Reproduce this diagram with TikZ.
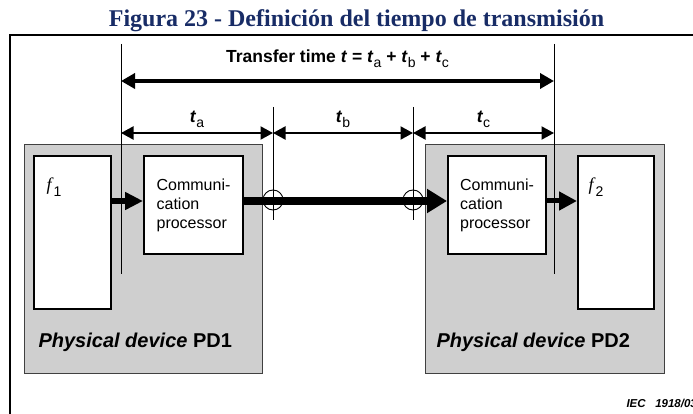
\documentclass[tikz,border=0pt]{standalone}
\usepackage{fontspec}
\setmainfont{Liberation Serif}
\setsansfont{Liberation Sans}
\usepackage{xcolor}
\usetikzlibrary{arrows.meta, calc}
\definecolor{titleblue}{RGB}{24,44,102}
\newcommand\lowidx[1]{\raisebox{-0.28em}{\mdseries\fontsize{14}{14}\selectfont #1}}

\begin{document}
\begin{tikzpicture}[x=1pt,y=-1pt,
	device/.style={draw=black!75,fill=black!19,line width=1.2pt,anchor=north west,inner sep=0pt},
	unit/.style={draw,fill=white,line width=2pt,anchor=north west,inner sep=0pt,
		font=\sffamily\fontsize{16}{19}\selectfont,align=left},
	devlabel/.style={anchor=base west,font=\sffamily\bfseries\fontsize{20}{24}\selectfont},
	fname/.style={anchor=base west,font=\fontsize{18}{20}\selectfont},
	dimline/.style={line width=0.9pt},
	dimtext/.style={anchor=base,font=\sffamily\bfseries\fontsize{17.5}{20}\selectfont},
	totalarrow/.style={line width=3.5pt,{Triangle[length=14pt,width=15pt]}-{Triangle[length=14pt,width=15pt]}},
	partarrow/.style={line width=2pt,{Triangle[length=12.5pt,width=13pt]}-{Triangle[length=12.5pt,width=13pt]}},
	ring/.style={circle,draw,minimum size=20pt,inner sep=0pt,line width=0.9pt}]
	\clip (0,0) rectangle (693,414);
	\node[font=\bfseries\fontsize{24}{28}\selectfont,text=titleblue,anchor=base] (title) at (356.5,27)
		{Figura 23 - Definición del tiempo de transmisión};
	\draw[line width=2pt] (10,430) |- (710,35);

	\node[device,minimum width=238pt,minimum height=229pt] (pd1) at (24,144) {};
	\node[device,minimum width=239pt,minimum height=229pt] (pd2) at (425,144) {};
	\node[devlabel] (pd1label) at ([xshift=11pt,yshift=27pt]pd1.south west) {\textit{Physical device} PD1};
	\node[devlabel] (pd2label) at ([xshift=8pt,yshift=27pt]pd2.south west) {\textit{Physical device} PD2};

	\node[unit,minimum width=77pt,minimum height=153pt] (f1) at (33,155) {};
	\node[unit,minimum width=99pt,minimum height=98pt] (cp1) at (143,155) {Communi-\\cation\\processor};
	\node[unit,minimum width=98pt,minimum height=98pt] (cp2) at (447,155) {Communi-\\cation\\processor};
	\node[unit,minimum width=76pt,minimum height=153pt] (f2) at (577,155) {};
	\node[fname] (f1label) at ([xshift=10pt,yshift=-36pt]f1.north west) {\textit{f}\lowidx{\sffamily 1}};
	\node[fname] (f2label) at ([xshift=8pt,yshift=-36pt]f2.north west) {\textit{f}\lowidx{\sffamily 2}};

	\coordinate (bus) at ([yshift=4pt]cp1.west);
	\draw[line width=6pt,-{Triangle[length=18pt,width=17pt]}] (f1.east |- bus) -- (cp1.west |- bus);
	\draw[line width=7.5pt,-{Triangle[length=20pt,width=23pt]}] (cp1.east |- bus) -- (cp2.west |- bus);
	\draw[line width=5pt,-{Triangle[length=18pt,width=18pt]}] (cp2.east |- bus) -- (f2.west |- bus);
	\node[ring] (ring1) at (273,200) {};
	\node[ring] (ring2) at (413,200) {};

	\coordinate (sA) at (121,44);
	\coordinate (sB) at (273,107);
	\coordinate (sC) at (413,107);
	\coordinate (sD) at (554,44);
	\coordinate (row1) at (0,81);
	\coordinate (row2) at (0,133);
	\draw[dimline] (sA) -- (sA |- 0,274);
	\draw[dimline] (sB) -- (sB |- 0,220);
	\draw[dimline] (sC) -- (sC |- 0,220);
	\draw[dimline] (sD) -- (sD |- 0,274);

	\draw[totalarrow] (sA |- row1) -- node[dimtext,yshift=18pt]
		{Transfer time \textit{t} = \textit{t}\lowidx{a} + \textit{t}\lowidx{b} + \textit{t}\lowidx{c}} (sD |- row1);
	\draw[partarrow] (sA |- row2) -- node[dimtext,yshift=10pt] {\textit{t}\lowidx{a}} (sB |- row2);
	\draw[partarrow] (sB |- row2) -- node[dimtext,yshift=10pt] {\textit{t}\lowidx{b}} (sC |- row2);
	\draw[partarrow] (sC |- row2) -- node[dimtext,yshift=10pt] {\textit{t}\lowidx{c}} (sD |- row2);

	\node[anchor=base west,font=\sffamily\bfseries\itshape\fontsize{11.5}{13}\selectfont] (iec) at (623,407) {IEC~~~1918/03};
\end{tikzpicture}
\end{document}
